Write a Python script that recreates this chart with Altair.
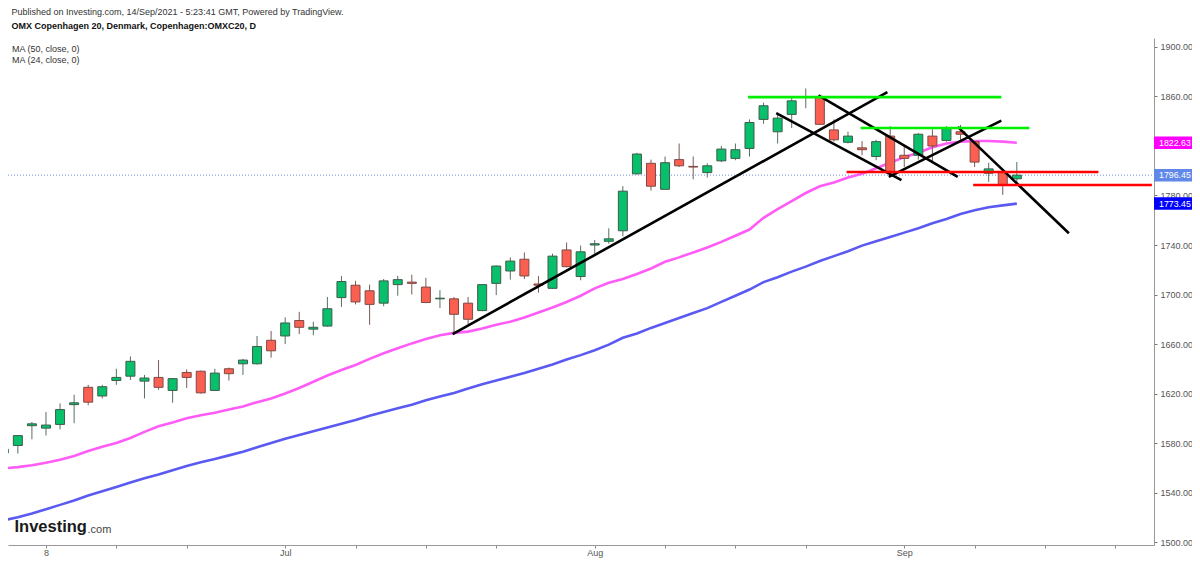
import altair as alt
import pandas as pd

# ---------------- data ----------------
dates = ["Jun 3", "Jun 4", "Jun 7", "Jun 8", "Jun 9", "Jun 10", "Jun 11", "Jun 14", "Jun 15", "Jun 16",
         "Jun 17", "Jun 18", "Jun 21", "Jun 22", "Jun 23", "Jun 24", "Jun 25", "Jun 28", "Jun 29", "Jun 30",
         "Jul 1", "Jul 2", "Jul 5", "Jul 6", "Jul 7", "Jul 8", "Jul 9", "Jul 12", "Jul 13", "Jul 14",
         "Jul 15", "Jul 16", "Jul 19", "Jul 20", "Jul 21", "Jul 22", "Jul 23", "Jul 26", "Jul 27", "Jul 28",
         "Jul 29", "Jul 30", "Aug 2", "Aug 3", "Aug 4", "Aug 5", "Aug 6", "Aug 9", "Aug 10", "Aug 11",
         "Aug 12", "Aug 13", "Aug 16", "Aug 17", "Aug 18", "Aug 19", "Aug 20", "Aug 23", "Aug 24", "Aug 25",
         "Aug 26", "Aug 27", "Aug 30", "Aug 31", "Sep 1", "Sep 2", "Sep 3", "Sep 6", "Sep 7", "Sep 8",
         "Sep 9", "Sep 10", "Sep 13"]

opens = [1572, 1578, 1594, 1592, 1595, 1611, 1625, 1618, 1630.5, 1634,
         1630, 1633, 1622.5, 1637, 1638, 1622.5, 1640, 1644, 1644, 1663,
         1666.5, 1679, 1672, 1674.5, 1697.5, 1707.5, 1703, 1693, 1708, 1710,
         1706, 1696.5, 1696.5, 1693, 1687, 1709, 1719, 1728.5, 1708.5, 1705,
         1736, 1714.5, 1740, 1743, 1751.5, 1797.5, 1806, 1785, 1809, 1803.5,
         1798.5, 1808, 1810, 1818, 1841.5, 1831.5, 1845.5, 1859.5, 1860, 1833,
         1823, 1818.5, 1811.5, 1828, 1812.5, 1812.5, 1828, 1824.5, 1831.5, 1823.5,
         1798, 1799, 1793.5]
highs = [1576, 1586.5, 1597, 1605, 1612, 1619, 1627, 1627, 1640, 1650,
         1635, 1647, 1632.5, 1639.5, 1638.5, 1640, 1641, 1648, 1666.5, 1670.5,
         1681.5, 1686, 1678, 1698, 1715, 1711, 1708, 1712.5, 1715, 1716,
         1713.5, 1703.5, 1698, 1698, 1708.5, 1723.5, 1730, 1734, 1715, 1733,
         1742, 1739.5, 1744, 1753.5, 1787.5, 1814.5, 1809, 1811.5, 1822, 1811.5,
         1806, 1820, 1822, 1841.5, 1855, 1847, 1859.5, 1866.5, 1861, 1841.5,
         1831.5, 1824, 1825, 1836, 1821, 1830.5, 1833.5, 1836, 1837, 1823.5,
         1806.5, 1799.5, 1807]
lows = [1571, 1571.5, 1583, 1586, 1591, 1596, 1610.5, 1616, 1627, 1631,
        1616, 1623, 1612.5, 1624.5, 1620, 1622, 1630.5, 1635, 1643.5, 1649,
        1660, 1668, 1667, 1674, 1690, 1692, 1675.5, 1690.5, 1699, 1700,
        1693, 1689, 1668, 1676, 1686.5, 1699.5, 1712, 1712.5, 1701.5, 1704.5,
        1722, 1711.5, 1733, 1741, 1747, 1797, 1784, 1785, 1803, 1793,
        1794.5, 1807, 1808.5, 1811.5, 1838, 1822, 1834.5, 1850.5, 1837, 1823.5,
        1822, 1812.5, 1808.5, 1795, 1803, 1809, 1806.5, 1823.5, 1824, 1803,
        1791, 1780.5, 1790]
closes = [1575, 1586, 1595.5, 1594.5, 1607, 1612.5, 1613, 1625.5, 1633, 1646,
          1632.5, 1625, 1632, 1633, 1620.5, 1636.5, 1636, 1647, 1658, 1654.5,
          1677, 1673.5, 1673.5, 1688.5, 1710.5, 1694, 1692, 1711, 1712, 1709,
          1693.5, 1697, 1684, 1680, 1708, 1723, 1727, 1715, 1707.5, 1731,
          1722.5, 1734.5, 1741, 1745, 1783.5, 1813.5, 1787.5, 1806.5, 1804, 1803,
          1804, 1817.5, 1817, 1839, 1852.5, 1842.5, 1856.5, 1860, 1837.5, 1825,
          1828, 1817, 1823.5, 1798.5, 1810, 1829.5, 1820, 1834.5, 1829.5, 1807,
          1801.5, 1788.5, 1796.45]

ma24 = [1559.5, 1560.5, 1562, 1564, 1566.5, 1569.5, 1573.5, 1577, 1580, 1584,
        1589, 1593.5, 1596.5, 1600, 1602.5, 1604.5, 1607, 1609.5, 1613, 1616,
        1620, 1624.5, 1629.5, 1634.5, 1639, 1643, 1648, 1652.5, 1656.5, 1660.5,
        1664, 1667, 1669, 1670, 1672.5, 1675.5, 1678, 1681.5, 1685.5, 1689.5,
        1694, 1699, 1705, 1709.5, 1712.5, 1716.5, 1721, 1726.5, 1730, 1734,
        1738, 1742.5, 1747.5, 1752.5, 1762, 1769, 1775.5, 1782, 1787.5, 1790.5,
        1794.5, 1797.5, 1802, 1806.5, 1811, 1814.5, 1819, 1822, 1823.5, 1824,
        1824, 1823.5, 1822.63]
ma50 = [1517.5, 1520, 1523, 1526.5, 1530, 1533.5, 1537.5, 1541, 1544.5, 1548,
        1551.5, 1554.5, 1558, 1561.5, 1564.5, 1567, 1570, 1573, 1576.5, 1580,
        1583.5, 1586.5, 1589.5, 1592.5, 1595.5, 1598.5, 1602, 1605, 1608, 1611,
        1614.5, 1617.5, 1620.5, 1624, 1627.5, 1630.5, 1633.5, 1636.5, 1640, 1643.5,
        1647.5, 1651, 1655, 1659.5, 1665, 1668.5, 1673, 1677, 1681, 1685,
        1689, 1694, 1699, 1704, 1710, 1714, 1718.5, 1722.5, 1727, 1731,
        1735, 1739.5, 1743, 1746.5, 1750, 1753.5, 1757.5, 1761, 1765, 1768,
        1770.5, 1772, 1773.45]

# x-axis ticks (trading-day index) and their labels
tick_idx = [3, 8, 13, 20, 25, 30, 35, 42, 47, 52, 57, 64, 69, 74, 79]
tick_txt = ["8", "", "", "Jul", "", "", "", "Aug", "", "", "", "Sep", "", "", ""]

# y-axis tick values
y_ticks = list(range(1500, 1901, 20))

# drawn annotations (index, price) -> (index, price)
seg_x1 = [31.9, 54.9, 57.9, 62.9, 67.8, 52.9, 60.9, 59.9, 68.9]
seg_y1 = [1668, 1846.5, 1861, 1795, 1835.5, 1859.5, 1834.5, 1799, 1788.5]
seg_x2 = [62.8, 63.8, 67.8, 70.9, 75.7, 70.9, 72.9, 77.8, 81.6]
seg_y2 = [1863.5, 1792.5, 1795, 1840.5, 1749.5, 1859.5, 1834.5, 1799, 1788.5]
seg_kind = ["black", "black", "black", "black", "black", "green", "green", "red", "red"]

# last values
last_price = 1796.45
last_ma24 = 1822.63
last_ma50 = 1773.45

title_line1 = "Published on Investing.com, 14/Sep/2021 - 5:23:41 GMT, Powered by TradingView."
title_line2 = "OMX Copenhagen 20, Denmark, Copenhagen:OMXC20, D"
legend_lines = ["MA (50, close, 0)", "MA (24, close, 0)"]

# ---------------- build ----------------
FONT = "Liberation Sans"
W, H = 1146, 507
XDOM = [0.3, 81.75]
YDOM = [1497.58, 1907.27]

SEG_HEX = {"black": "#000000", "green": "#00f000", "red": "#ff0000"}

df = pd.DataFrame({"i": list(range(len(dates))), "date": dates, "open": opens,
                   "high": highs, "low": lows, "close": closes,
                   "ma24": ma24, "ma50": ma50})
segs = pd.DataFrame({"x1": seg_x1, "y1": seg_y1, "x2": seg_x2, "y2": seg_y2,
                     "hex": [SEG_HEX[k] for k in seg_kind]})

label_expr = " : ".join([f"datum.value == {v} ? '{t}'" for v, t in zip(tick_idx, tick_txt)]) + " : ''"

xs = alt.Scale(domain=XDOM, nice=False, zero=False, padding=0)
ys = alt.Scale(domain=YDOM, nice=False, zero=False, padding=0)

x_axis = alt.Axis(values=tick_idx, labelExpr=label_expr, title=None, grid=False,
                  labelFont=FONT, labelFontSize=9, labelColor="#555555",
                  tickSize=3, labelPadding=0, tickColor="#888888",
                  domainColor="#999999", labelFlush=False)
y_axis = alt.Axis(values=y_ticks, format=".2f", orient="right", title=None, grid=False,
                  labelFont=FONT, labelFontSize=9, labelColor="#555555",
                  tickSize=3, labelPadding=3, tickColor="#777777",
                  domainColor="#999999", labelBound=False)

base = alt.Chart(df)

up = "datum.close >= datum.open"

axes_layer = base.mark_point(opacity=0).encode(
    x=alt.X("i:Q", scale=xs, axis=x_axis),
    y=alt.Y("close:Q", scale=ys, axis=y_axis),
)

price_line = alt.Chart(pd.DataFrame({"p": [last_price]})).mark_rule(
    color="#7090e8", strokeWidth=1, strokeDash=[1, 2]
).encode(y=alt.Y("p:Q", scale=ys), x=alt.value(0), x2=alt.value(W))

ma50_line = base.mark_line(color="#5a5af2", strokeWidth=2.6, clip=True).encode(
    x=alt.X("i:Q", scale=xs), y=alt.Y("ma50:Q", scale=ys))
ma24_line = base.mark_line(color="#ff5cf7", strokeWidth=2.6, clip=True).encode(
    x=alt.X("i:Q", scale=xs), y=alt.Y("ma24:Q", scale=ys))

wicks = base.mark_rule(strokeWidth=1, clip=True).encode(
    x=alt.X("i:Q", scale=xs),
    y=alt.Y("low:Q", scale=ys),
    y2="high:Q",
    color=alt.condition(up, alt.value("#58705f"), alt.value("#7a5a55")),
)
bodies = base.mark_bar(size=9, strokeWidth=1, clip=True).encode(
    x=alt.X("i:Q", scale=xs),
    y=alt.Y("open:Q", scale=ys),
    y2="close:Q",
    fill=alt.condition(up, alt.value("#08bf6c"), alt.value("#fb5f52")),
    stroke=alt.condition(up, alt.value("#3e5c4a"), alt.value("#7e4a44")),
)

lines = alt.Chart(segs).mark_rule(strokeWidth=2.6, strokeCap="butt").encode(
    x=alt.X("x1:Q", scale=xs), y=alt.Y("y1:Q", scale=ys),
    x2="x2:Q", y2="y2:Q", color=alt.Color("hex:N", scale=None))

badges_df = pd.DataFrame({"v": [last_ma24, last_price, last_ma50],
                          "hex": ["#ff00ff", "#6088e8", "#0000ff"],
                          "t": [f"{last_ma24:.2f}", f"{last_price:.2f}", f"{last_ma50:.2f}"]})
badges = alt.Chart(badges_df).mark_tick(size=41, thickness=12.5, opacity=1).encode(
    y=alt.Y("v:Q", scale=ys), x=alt.value(W + 20.5), color=alt.Color("hex:N", scale=None))
badge_text = alt.Chart(badges_df).mark_text(
    font=FONT, fontSize=8.8, color="white", align="left", baseline="middle"
).encode(y=alt.Y("v:Q", scale=ys), x=alt.value(W + 5), text="t:N")

def label(txt, x, y, size=9.0, weight="normal", color="#333333", font=FONT):
    return alt.Chart(pd.DataFrame({"t": [txt]})).mark_text(
        font=font, fontSize=size, fontWeight=weight, color=color,
        align="left", baseline="middle"
    ).encode(text="t:N", x=alt.value(x), y=alt.value(y))

# plot origin is at page (8, 38)
hdr1 = label(title_line1, 3.5, 11.5 - 38, size=9, color="#333333")
hdr2 = label(title_line2, 3.5, 25.5 - 38, size=9, weight="bold", color="#111111")
leg1 = label(legend_lines[0], 4, 49 - 38, size=9, color="#333333")
leg2 = label(legend_lines[1], 4, 60 - 38, size=9, color="#333333")
logo1 = label("Investing", 6.5, 527 - 38, size=16.5, weight="bold", color="#1a1a1a")
logo2 = label(".com", 79.5, 530 - 38, size=11, color="#444444")

chart = alt.layer(
    axes_layer, price_line, ma50_line, ma24_line, wicks, bodies, lines,
    badges, badge_text, hdr1, hdr2, leg1, leg2, logo1, logo2
).properties(
    width=W, height=H,
    autosize=alt.AutoSizeParams(type="none"),
    padding={"left": 0, "top": 30, "right": 38, "bottom": 13},
    background="white",
).configure_view(stroke=None)

chart.save("out.html", embed_options={"renderer": "svg", "actions": False})
